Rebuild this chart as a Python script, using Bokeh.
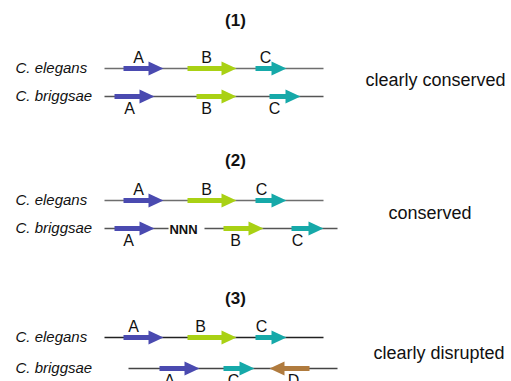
from bokeh.plotting import figure
from bokeh.models import Range1d
from bokeh.core.properties import value
from bokeh.embed import file_html
from bokeh.resources import INLINE

FONT = "Liberation Sans"

# panel titles
panel_titles = ["(1)", "(2)", "(3)"]
panel_title_x = [235, 235, 235]
panel_title_y = [20, 160, 298]

# tracks (species rows)
track_species = ["C. elegans", "C. briggsae", "C. elegans", "C. briggsae", "C. elegans", "C. briggsae"]
track_y = [68, 96, 200, 228, 337, 368]
track_label_pos = ["above", "below", "above", "below", "above", "below"]
# backbone segments per track (x0, x1)
backbone_track = [0, 1, 2, 3, 3, 4, 5]
backbone_x0 = [104, 104, 104, 104, 204, 104, 128]
backbone_x1 = [323, 323, 323, 168, 337, 323, 337]
backbone_color = ["#6e6e6e", "#555555", "#6e6e6e", "#555555", "#555555", "#222222", "#444444"]

# genes
gene_track = [0, 0, 0, 1, 1, 1, 2, 2, 2, 3, 3, 3, 4, 4, 4, 5, 5, 5]
gene_name = ["A", "B", "C", "A", "B", "C", "A", "B", "C", "A", "B", "C", "A", "B", "C", "A", "C", "D"]
gene_start = [123, 187, 255, 114, 196, 269, 123, 187, 255, 114, 223, 291, 123, 187, 255, 159, 223, 309]
gene_end = [163, 236, 286, 154, 236, 300, 163, 236, 286, 154, 263, 323, 163, 236, 286, 199, 254, 269]
gene_label_x = [138, 206, 265, 129, 206, 274, 138, 206, 261, 128, 235, 297, 133, 200, 261, 169, 233, 293]
gene_colors = {"A": "#4a4ab0", "B": "#a9d114", "C": "#16a9a9", "D": "#b07b3e"}

# gap marker
gap_text = ["NNN"]
gap_track = [3]
gap_x = [183]

# outcome labels
outcome_text = ["clearly conserved", "conserved", "clearly disrupted"]
outcome_x = [365, 388, 373]
outcome_y = [79, 212, 352]

p = figure(width=511, height=381, output_backend="svg", toolbar_location=None,
           x_range=Range1d(0, 511), y_range=Range1d(381, 0),
           min_border=0)
p.axis.visible = False
p.grid.visible = False
p.outline_line_color = None

# backbones
p.segment(x0=backbone_x0, x1=backbone_x1,
          y0=[track_y[t] for t in backbone_track], y1=[track_y[t] for t in backbone_track],
          line_color=backbone_color, line_width=1.3)

# arrows
HEAD = 15
SHAFT = 2.6
HEADW = 7
xs, ys, cols = [], [], []
for t, n, s, e in zip(gene_track, gene_name, gene_start, gene_end):
    y = track_y[t]
    d = 1 if e > s else -1
    hb = e - d * HEAD
    xs.append([s, hb, hb, e, hb, hb, s])
    ys.append([y - SHAFT, y - SHAFT, y - HEADW, y, y + HEADW, y + SHAFT, y + SHAFT])
    cols.append(gene_colors[n])
p.patches(xs=xs, ys=ys, fill_color=cols, line_color=None)

# gene labels
gl_y = []
for t in gene_track:
    gl_y.append(track_y[t] - 11 if track_label_pos[t] == "above" else track_y[t] + 12)
p.text(x=gene_label_x, y=gl_y, text=gene_name, text_font=value(FONT), text_font_size="16px",
       text_align="center", text_baseline="middle", text_color="#111111")

# species names
p.text(x=[15] * len(track_species), y=[y - 1 for y in track_y], text=track_species,
       text_font=value(FONT), text_font_size="15px", text_font_style="italic",
       text_align="left", text_baseline="middle", text_color="#111111")

# panel titles
p.text(x=panel_title_x, y=panel_title_y, text=panel_titles, text_font=value(FONT),
       text_font_size="17px", text_font_style="bold", text_align="center",
       text_baseline="middle", text_color="#111111")

# gap
p.text(x=gap_x, y=[track_y[t] + 1 for t in gap_track], text=gap_text, text_font=value(FONT),
       text_font_size="13px", text_font_style="bold", text_align="center",
       text_baseline="middle", text_color="#111111")

# outcomes
p.text(x=outcome_x, y=outcome_y, text=outcome_text, text_font=value(FONT),
       text_font_size="18px", text_align="left", text_baseline="middle", text_color="#111111")

open("out.html", "w").write(file_html(p, INLINE))
